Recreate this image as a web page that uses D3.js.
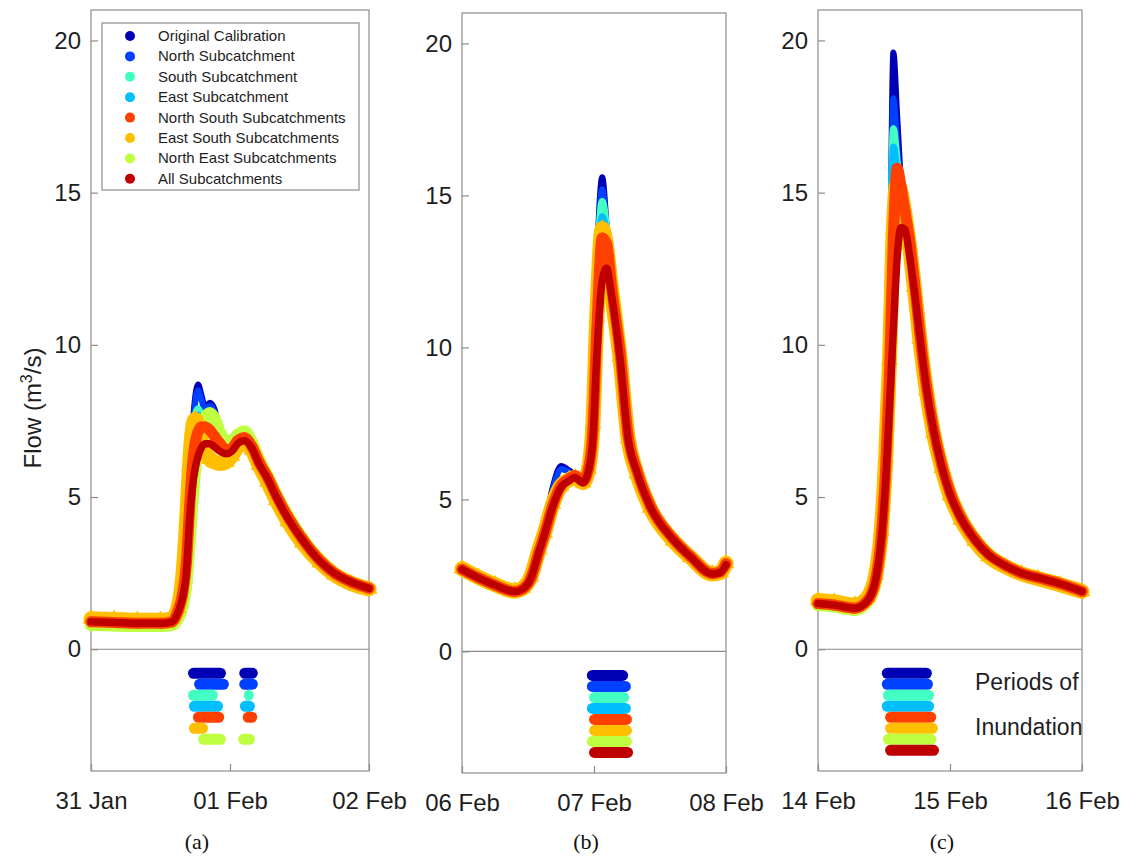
<!DOCTYPE html>
<html><head><meta charset="utf-8">
<script src="https://cdn.jsdelivr.net/npm/d3@7"></script>
<style>body{margin:0;background:#fff}</style>
</head><body>
<svg id="chart" width="1130" height="858"></svg>
<script>
// ---------------- data ----------------
const seriesNames = ["Original Calibration","North Subcatchment","South Subcatchment","East Subcatchment",
  "North South Subcatchments","East South Subcatchments","North East Subcatchments","All Subcatchments"];
const seriesColors = ["#0000b4","#0040ff","#44ffc4","#00bfff","#ff4000","#ffbf00","#bfff40","#bf0000"];

const yTickValues = [0,5,10,15,20];
const xTickHours = [0,24,48];
const xTickLabelsA = ["31 Jan","01 Feb","02 Feb"];
const xTickLabelsB = ["06 Feb","07 Feb","08 Feb"];
const xTickLabelsC = ["14 Feb","15 Feb","16 Feb"];
const panelLetters = ["(a)","(b)","(c)"];

// Panel (a): hours since 31 Jan 00:00
const hoursA = [0,4,8,12,14,15,15.8,16.5,17,17.5,18,18.5,19,19.7,20.5,21.3,22.3,23.3,24.3,25.3,26.5,27.8,29,30.5,32,34,36.5,39.5,42,45,48];
const flowA_original = [0.92,0.9,0.87,0.87,0.92,1.3,2.0,3.5,5.5,7.2,8.3,8.7,8.4,7.95,8.1,7.9,7.0,6.5,6.55,6.8,6.9,6.65,6.15,5.65,5.05,4.35,3.62,2.92,2.5,2.2,2.0];
const flowA_north = [0.92,0.9,0.87,0.87,0.92,1.3,2.0,3.4,5.4,7.0,8.1,8.5,8.25,7.85,8.0,7.8,6.95,6.5,6.55,6.8,6.9,6.65,6.15,5.65,5.05,4.35,3.62,2.92,2.5,2.2,2.0];
const flowA_south = [0.9,0.88,0.86,0.86,0.91,1.28,1.9,3.3,5.3,6.9,7.7,7.9,7.7,7.5,7.6,7.5,6.9,6.5,6.55,6.8,6.9,6.65,6.15,5.65,5.05,4.35,3.62,2.92,2.5,2.2,2.0];
const flowA_east = [0.9,0.88,0.86,0.86,0.91,1.28,1.9,3.2,5.2,6.8,7.5,7.7,7.6,7.4,7.5,7.35,6.85,6.5,6.55,6.8,6.9,6.65,6.15,5.65,5.05,4.35,3.62,2.92,2.5,2.2,2.0];
const flowA_northSouth = [0.9,0.88,0.85,0.85,0.9,1.25,1.8,2.9,4.6,6.0,6.8,7.15,7.3,7.3,7.2,7.0,6.75,6.55,6.6,6.85,6.95,6.65,6.15,5.65,5.05,4.35,3.62,2.92,2.5,2.2,2.0];
const flowA_eastSouth = [1.0,0.98,0.95,0.95,1.0,1.35,2.3,4.2,6.0,7.2,7.55,7.3,6.9,6.5,6.25,6.15,6.1,6.15,6.35,6.65,6.8,6.55,6.05,5.5,4.9,4.2,3.5,2.85,2.45,2.15,1.98];
const flowA_northEast = [0.8,0.78,0.76,0.76,0.8,1.0,1.4,2.2,3.4,4.8,5.9,6.7,7.2,7.6,7.75,7.6,7.1,6.85,6.85,7.05,7.15,6.8,6.25,5.7,5.1,4.4,3.65,2.95,2.52,2.2,2.0];
const flowA_all = [0.9,0.88,0.85,0.85,0.9,1.2,1.7,2.6,4.2,5.3,5.95,6.35,6.6,6.75,6.75,6.65,6.5,6.42,6.5,6.75,6.85,6.6,6.1,5.6,5.0,4.3,3.6,2.9,2.5,2.2,2.0];

// Panel (b): hours since 06 Feb 00:00
const hoursB = [0,3,6,9.6,11,12.5,14,15,16.5,18,19.5,20.5,22,23,23.8,24.5,25.5,26.3,27.2,28.7,30.2,31.8,34.2,38.4,41.5,45.5,47,48];
const flowB_original = [2.72,2.44,2.2,1.99,2.1,2.5,3.45,4.1,5.4,6.1,5.95,5.8,5.6,6.0,7.6,12.5,15.6,14.0,11.9,9.7,7.0,5.9,4.77,3.68,3.12,2.55,2.6,2.9];
const flowB_north = [2.72,2.44,2.2,1.99,2.1,2.48,3.4,4.05,5.3,6.0,5.9,5.78,5.58,5.98,7.5,12.3,15.2,13.8,11.9,9.7,7.0,5.9,4.77,3.68,3.12,2.55,2.6,2.9];
const flowB_south = [2.7,2.42,2.18,1.97,2.06,2.42,3.3,3.9,4.85,5.5,5.68,5.75,5.56,5.96,7.3,12.0,14.8,13.9,12.0,9.8,7.0,5.9,4.77,3.68,3.12,2.55,2.6,2.88];
const flowB_east = [2.7,2.42,2.18,1.97,2.06,2.42,3.3,3.9,4.85,5.5,5.68,5.75,5.56,5.96,7.2,11.6,14.3,13.7,12.0,9.8,7.0,5.9,4.77,3.68,3.12,2.55,2.6,2.88];
const flowB_northSouth = [2.7,2.42,2.18,1.97,2.05,2.4,3.28,3.85,4.8,5.45,5.68,5.78,5.6,6.0,7.3,10.5,13.6,13.4,12.0,9.9,7.1,5.95,4.8,3.7,3.13,2.56,2.62,2.88];
const flowB_eastSouth = [2.72,2.44,2.2,1.99,2.08,2.45,3.35,3.9,4.85,5.45,5.65,5.72,5.55,6.0,7.5,11.0,13.9,13.3,11.8,9.7,7.0,5.85,4.72,3.64,3.1,2.55,2.6,2.9];
const flowB_northEast = [2.66,2.38,2.14,1.93,2.0,2.33,3.2,3.78,4.7,5.35,5.6,5.7,5.52,5.85,6.8,9.8,12.9,13.3,12.3,10.2,7.3,6.0,4.82,3.7,3.13,2.55,2.58,2.82];
const flowB_all = [2.7,2.42,2.18,1.97,2.05,2.4,3.28,3.85,4.77,5.4,5.62,5.72,5.55,5.95,7.0,9.7,12.2,12.6,11.7,9.7,7.0,5.9,4.77,3.68,3.12,2.55,2.6,2.85];

// Panel (c): hours since 14 Feb 00:00
const hoursC = [0,3,6.7,9,10.5,11.5,12.3,13,13.7,14.4,15.1,15.8,16.6,17.5,18.5,19.7,21,22.5,24,26,28.5,31,34,37,40,44,48];
const flowC_original = [1.55,1.5,1.4,1.65,2.4,4.0,7.0,11.0,19.6,17.5,15.3,14.0,13.1,11.9,10.3,8.6,7.2,6.0,5.1,4.3,3.6,3.1,2.75,2.5,2.35,2.15,1.9];
const flowC_north = [1.55,1.5,1.4,1.65,2.4,3.9,6.8,10.8,18.1,16.5,15.0,14.0,13.1,11.9,10.3,8.6,7.2,6.0,5.1,4.3,3.6,3.1,2.75,2.5,2.35,2.15,1.9];
const flowC_south = [1.53,1.48,1.38,1.63,2.35,3.8,6.5,10.5,17.1,16.0,14.8,14.0,13.1,11.9,10.3,8.6,7.2,6.0,5.1,4.3,3.6,3.1,2.75,2.5,2.35,2.15,1.9];
const flowC_east = [1.53,1.48,1.38,1.63,2.35,3.8,6.4,10.2,16.5,15.6,14.6,13.9,13.1,11.9,10.3,8.6,7.2,6.0,5.1,4.3,3.6,3.1,2.75,2.5,2.35,2.15,1.9];
const flowC_northSouth = [1.5,1.45,1.35,1.6,2.3,3.7,5.9,9.0,13.5,15.8,15.2,14.4,13.5,12.1,10.4,8.65,7.25,6.05,5.15,4.32,3.62,3.12,2.76,2.5,2.35,2.15,1.9];
const flowC_eastSouth = [1.6,1.55,1.45,1.7,2.45,3.9,6.3,9.5,13.8,15.3,15.0,14.3,13.3,11.9,10.2,8.5,7.1,5.95,5.05,4.25,3.55,3.05,2.72,2.48,2.32,2.12,1.9];
const flowC_northEast = [1.45,1.4,1.3,1.55,2.2,3.4,5.4,8.3,12.5,14.6,15.0,14.5,13.6,12.3,10.6,8.8,7.35,6.1,5.2,4.38,3.66,3.15,2.78,2.52,2.37,2.17,1.92];
const flowC_all = [1.5,1.45,1.35,1.6,2.3,3.6,5.5,8.0,10.5,12.9,13.85,13.8,13.0,11.8,10.3,8.6,7.2,6.0,5.1,4.3,3.6,3.1,2.75,2.5,2.35,2.15,1.9];

// Periods of inundation [start hour, end hour] per series (legend order)
const inundationA = [
  [[16.75,23.3],[25.6,28.8]], [[17.8,23.8],[25.6,28.8]], [[16.75,21.9],[26.4,28.1]], [[16.9,22.8],[25.7,28.3]],
  [[17.6,23.0],[26.2,28.7]], [[16.9,20.2]], [[18.5,23.3],[25.4,28.3]], []
];
const inundationB = [
  [[22.7,30.2]], [[22.7,30.7]], [[23.1,30.4]], [[22.7,30.7]],
  [[23.1,30.9]], [[23.1,30.9]], [[22.7,30.9]], [[23.1,31.1]]
];
const inundationC = [
  [[11.6,20.7]], [[11.6,20.9]], [[11.8,21.1]], [[11.6,21.1]],
  [[12.2,21.5]], [[12.2,21.8]], [[11.8,21.5]], [[12.2,22.0]]
];

// ---------------- layout / style ----------------
const FONT = "'Liberation Sans', Arial, Helvetica, sans-serif";
const svg = d3.select("#chart");
const panels = [
  {box:[91,369,10,771], hours:hoursA, labels:xTickLabelsA, inund:inundationA, letterX:197,
   flows:[flowA_original,flowA_north,flowA_south,flowA_east,flowA_northSouth,flowA_eastSouth,flowA_northEast,flowA_all]},
  {box:[462,726,13,773], hours:hoursB, labels:xTickLabelsB, inund:inundationB, letterX:586,
   flows:[flowB_original,flowB_north,flowB_south,flowB_east,flowB_northSouth,flowB_eastSouth,flowB_northEast,flowB_all]},
  {box:[818,1082,10,771], hours:hoursC, labels:xTickLabelsC, inund:inundationC, letterX:942,
   flows:[flowC_original,flowC_north,flowC_south,flowC_east,flowC_northSouth,flowC_eastSouth,flowC_northEast,flowC_all]}
];
const seriesStyle = [
  {w:6}, {w:6}, {w:7}, {w:7},
  {w:11, marker:"circle", r:5.5}, {w:15, marker:"triangle", s:125}, {w:12, marker:"circle", r:6}, {w:7.5}
];
const drawOrder = [0,1,2,3,6,5,4,7];
const axisColor = "#8c8c8c";

panels.forEach((p, pi) => {
  const [L,R,T,B] = p.box;
  const x = d3.scaleLinear().domain([0,48]).range([L,R]);
  const y = d3.scaleLinear().domain([-4,21]).range([B,T]);
  const g = svg.append("g");

  g.append("rect").attr("x",L).attr("y",T).attr("width",R-L).attr("height",B-T)
    .attr("fill","none").attr("stroke",axisColor).attr("stroke-width",1.2);
  g.append("line").attr("x1",L).attr("x2",R).attr("y1",y(0)).attr("y2",y(0))
    .attr("stroke",axisColor).attr("stroke-width",1.2);

  const ya = g.append("g").attr("transform",`translate(${L},0)`)
    .call(d3.axisLeft(y).tickValues(yTickValues).tickSizeInner(-7).tickSizeOuter(0).tickPadding(10));
  ya.select(".domain").remove();
  ya.selectAll(".tick line").attr("stroke",axisColor).attr("stroke-width",1.2);
  ya.selectAll(".tick text").attr("font-family",FONT).attr("font-size",24).attr("fill","#1e1e1e");

  const xa = g.append("g").attr("transform",`translate(0,${B})`)
    .call(d3.axisBottom(x).tickValues(xTickHours).tickFormat((d,i)=>p.labels[i])
      .tickSizeInner(-7).tickSizeOuter(0).tickPadding(21));
  xa.select(".domain").remove();
  xa.selectAll(".tick line").attr("stroke",axisColor).attr("stroke-width",1.2);
  xa.selectAll(".tick text").attr("font-family",FONT).attr("font-size",24).attr("fill","#1e1e1e");

  drawOrder.forEach(si => {
    const st = seriesStyle[si];
    const pts = p.hours.map((h,i)=>[h, p.flows[si][i]]);
    const line = d3.line().x(d=>x(d[0])).y(d=>y(d[1])).curve(d3.curveMonotoneX);
    g.append("path").attr("d",line(pts)).attr("fill","none")
      .attr("stroke",seriesColors[si]).attr("stroke-width",st.w)
      .attr("stroke-linejoin","round").attr("stroke-linecap","round");
    if (st.marker === "circle") {
      g.append("g").selectAll("circle").data(pts).join("circle")
        .attr("cx",d=>x(d[0])).attr("cy",d=>y(d[1])).attr("r",st.r).attr("fill",seriesColors[si]);
    } else if (st.marker === "triangle") {
      const sym = d3.symbol(d3.symbolTriangle).size(st.s);
      g.append("g").selectAll("path").data(pts).join("path")
        .attr("d",sym()).attr("transform",d=>`translate(${x(d[0])},${y(d[1])})`).attr("fill",seriesColors[si]);
    }
  });

  p.inund.forEach((periods, si) => {
    const cy = y(0) + 24 + si*11;
    periods.forEach(([s,e]) => {
      g.append("rect").attr("x",x(s)).attr("width",x(e)-x(s)).attr("y",cy-5.5).attr("height",11)
        .attr("rx",5.5).attr("ry",5.5).attr("fill",seriesColors[si]);
    });
  });

  svg.append("text").attr("x",p.letterX).attr("y",849).attr("text-anchor","middle")
    .attr("font-family","'Liberation Serif', 'Times New Roman', serif").attr("font-size",22)
    .attr("fill","#111").text(panelLetters[pi]);
});

const yl = svg.append("text").attr("transform","translate(41,408) rotate(-90)")
  .attr("text-anchor","middle").attr("font-family",FONT).attr("font-size",24).attr("fill","#1e1e1e");
yl.append("tspan").text("Flow (m");
yl.append("tspan").attr("dy",-9).attr("font-size",16).text("3");
yl.append("tspan").attr("dy",9).text("/s)");

const lg = svg.append("g");
lg.append("rect").attr("x",102).attr("y",23).attr("width",257).attr("height",167)
  .attr("fill","#fff").attr("stroke",axisColor).attr("stroke-width",1.2);
seriesNames.forEach((n,i)=>{
  const cy = 36 + i*20.4;
  lg.append("circle").attr("cx",130).attr("cy",cy).attr("r",5).attr("fill",seriesColors[i]);
  lg.append("text").attr("x",158).attr("y",cy+5).attr("font-family",FONT).attr("font-size",15)
    .attr("fill","#1e1e1e").text(n);
});

svg.append("text").attr("x",975).attr("y",690).attr("font-family",FONT).attr("font-size",23)
  .attr("fill","#1e1e1e").text("Periods of");
svg.append("text").attr("x",975).attr("y",735).attr("font-family",FONT).attr("font-size",23)
  .attr("fill","#1e1e1e").text("Inundation");
</script>
</body></html>
